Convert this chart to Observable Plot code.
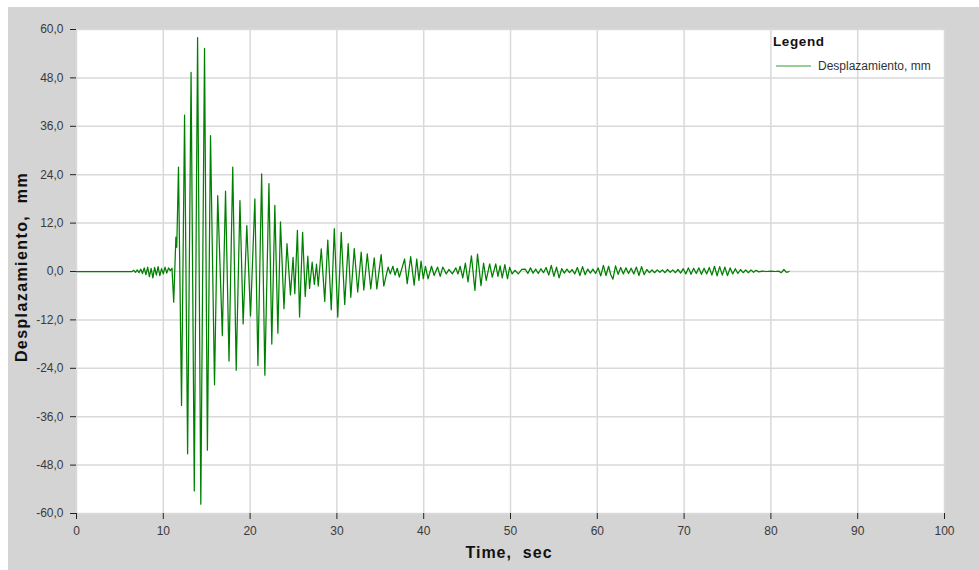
<!DOCTYPE html>
<html>
<head>
<meta charset="utf-8">
<script src="https://cdn.jsdelivr.net/npm/d3@7"></script>
<script src="https://cdn.jsdelivr.net/npm/@observablehq/plot@0.6"></script>
<style>
  body { margin: 0; background: #ffffff; font-family: "Liberation Sans", Arial, sans-serif; }
  #wrap { position: relative; width: 979px; height: 570px; overflow: hidden; }
  #chart { position: absolute; left: 8px; top: 7px; }
  .ytitle { position: absolute; left: 22px; top: 267px; transform: translate(-50%, -50%) rotate(-90deg);
            font-weight: bold; font-size: 16px; letter-spacing: 1.4px; color: #111; white-space: pre; }
  .xtitle { position: absolute; left: 509px; top: 553px; transform: translate(-50%, -50%);
            font-weight: bold; font-size: 16px; letter-spacing: 1px; color: #111; white-space: pre; }
  .legtitle { position: absolute; left: 773px; top: 34px; font-weight: bold; font-size: 13.5px; letter-spacing: 0.6px; color: #111; }
  .legitem { position: absolute; left: 776px; top: 59px; font-size: 12px; color: #333; display: flex; align-items: center; }
  .legitem svg { margin-right: 6px; }
</style>
</head>
<body>
<div id="wrap">
  <div id="chart"></div>
  <div class="ytitle">Desplazamiento,  mm</div>
  <div class="xtitle">Time,  sec</div>
  <div class="legtitle">Legend</div>
  <div class="legitem"><svg width="36" height="4"><line x1="0" x2="35" y1="2" y2="2" stroke="#2e9e2e" stroke-width="1"/></svg><span>Desplazamiento, mm</span></div>
</div>
<script>
// Time of each read extreme (sec)
const time = [
  0, 6.4, 6.6, 6.8, 7.0, 7.2, 7.4, 7.6, 7.8, 8.0, 8.2, 8.4, 8.6, 8.8, 9.0, 9.2, 9.4, 9.6, 9.8, 10.0,
  10.2, 10.4, 10.6, 10.8, 11.0, 11.2, 11.45, 11.55, 11.75, 12.1, 12.45, 12.8, 13.2, 13.57, 13.95, 14.32,
  14.75, 15.08, 15.44, 15.9, 16.27, 16.8, 17.17, 17.57, 18.0, 18.4, 18.83, 19.2, 19.62, 20.05, 20.55,
  20.9, 21.33, 21.7, 22.17, 22.5, 22.85, 23.2, 23.5, 23.9, 24.25, 24.65, 24.95, 25.15, 25.45, 25.7,
  26.05, 26.35, 26.65, 26.85, 27.15, 27.4, 27.65, 27.85, 28.2, 28.6, 28.95, 29.35, 29.7, 30.1, 30.5,
  30.9, 31.3, 31.6, 32.0, 32.4, 32.8, 33.1, 33.5, 33.9, 34.3, 34.6, 35.1, 35.4, 35.9, 36.15, 36.45,
  36.7, 36.95, 37.2, 37.8, 38.1, 38.5, 38.9, 39.2, 39.45, 39.7, 39.95, 40.2, 40.5, 40.9, 41.2, 41.6,
  41.9, 42.2, 42.6, 42.9, 43.3, 43.7, 43.95, 44.2, 44.5, 44.8, 45.1, 45.5, 45.9, 46.2, 46.6, 46.9,
  47.2, 47.6, 47.9, 48.3, 48.55, 48.8, 49.05, 49.35, 49.65, 49.9, 50.2, 50.5, 50.9, 51.3, 51.7,
  52.0, 52.3, 52.6, 52.9, 53.2, 53.5, 53.8, 54.1, 54.4, 54.7, 55.0, 55.3, 55.6, 55.9, 56.2, 56.5,
  56.8, 57.1, 57.4, 57.7, 58.0, 58.3, 58.6, 58.9, 59.2, 59.5, 59.8, 60.1, 60.4, 60.7, 61.0, 61.3,
  61.55, 61.8, 62.1, 62.4, 62.7, 63.0, 63.3, 63.6, 63.9, 64.2, 64.5, 64.8, 65.1, 65.4, 65.7, 66.0,
  66.3, 66.6, 66.9, 67.2, 67.5, 67.8, 68.1, 68.4, 68.7, 69.0, 69.3, 69.6, 69.9, 70.2, 70.5, 70.8,
  71.1, 71.4, 71.7, 72.0, 72.3, 72.6, 72.9, 73.2, 73.5, 73.8, 74.1, 74.4, 74.7, 75.0, 75.3, 75.6,
  75.9, 76.2, 76.5, 76.8, 77.1, 77.4, 77.7, 78.0, 78.3, 78.6, 79.0, 79.5, 80.0, 80.5, 80.9, 81.2,
  81.5, 81.8, 82.1
];
// Displacement at each of those times (mm)
const disp = [
  0, 0, 0.3, -0.2, 0.4, -0.3, 0.6, -0.5, 0.9, -0.8, 1.1, -1.3, 0.8, -1.6, 1.0, -0.9, 1.2, -1.0, 0.7, -0.6,
  1.1, -0.4, 0.9, 0.2, 0.8, -7.6, 8.5, 6.0, 25.9, -33.2, 38.8, -45.2, 49.4, -54.4, 58.0, -57.7,
  55.3, -44.3, 33.7, -28.1, 18.8, -15.9, 19.9, -22.2, 25.9, -24.5, 17.6, -13.0, 11.4, -11.0, 18.0,
  -23.3, 24.2, -25.7, 21.8, -18.0, 16.4, -15.3, 12.3, -9.2, 6.9, -5.8, 3.5, -5.5, 10.2, -11.3,
  9.7, -6.2, 3.8, -4.2, 2.3, -3.2, 1.8, -3.6, 5.6, -7.4, 7.8, -9.5, 10.6, -11.3, 9.7,
  -8.2, 6.9, -6.4, 5.7, -5.1, 4.8, -4.6, 4.4, -4.3, 3.4, -4.3, 4.2, -3.6, 1.1, -0.6, 1.3,
  -0.9, 0.8, -1.4, 3.1, -3.0, 3.7, -3.4, 3.1, -2.2, 2.6, -1.8, 1.3, -1.8, 1.3, -1.0, 1.1,
  -1.2, 1.1, -0.6, 0.5, -0.6, 0.9, -0.6, 1.3, -1.6, 2.1, -2.6, 3.9, -4.7, 4.3, -3.5, 2.1,
  -2.2, 1.9, -1.4, 1.9, -1.2, 1.4, -1.6, 1.7, -1.8, 1.0, -0.6, 0.3, -0.6, 0.5, 0.6,
  -0.5, 0.9, -0.4, 0.6, -0.5, 0.7, -0.3, 1.0, -0.9, 1.5, -1.2, 1.1, -1.6, 0.7, -0.4, 0.6,
  -0.3, 0.5, -0.6, 1.0, -1.0, 1.2, -0.8, 0.6, -0.4, 0.6, -0.5, 0.9, -1.1, 1.5, -1.0, 1.3,
  -0.8, -1.9, 1.4, -0.7, 1.0, -0.6, 0.9, -0.5, 0.8, -0.6, 1.1, -1.0, 1.2, -0.8, 0.5, -0.3,
  0.4, -0.3, 0.4, -0.2, 0.4, -0.3, 0.5, -0.2, 0.4, -0.3, 0.5, -0.4, 0.7, -0.6, 0.9, -0.7,
  0.8, -0.5, 0.9, -0.7, 0.8, -0.6, 1.0, -0.9, 1.3, -1.1, 1.2, -0.9, 1.1, -1.0, 0.9, -0.6,
  0.7, -0.5, 0.5, -0.3, 0.4, -0.3, 0.4, -0.2, 0.3, -0.1, 0.1, 0.0, 0.1, 0.0, 0.1, -0.3,
  0.5, -0.2, 0.0
];
const xTicks = [0, 10, 20, 30, 40, 50, 60, 70, 80, 90, 100];
const yTicks = [-60, -48, -36, -24, -12, 0, 12, 24, 36, 48, 60];

const data = time.map((t, i) => ({t, v: disp[i]}));

const chart = Plot.plot({
  width: 971,
  height: 563,
  marginLeft: 68,
  marginRight: 35,
  marginTop: 22,
  marginBottom: 57,
  style: {background: "#d4d4d4", fontFamily: "Liberation Sans, Arial, sans-serif", fontSize: "12px", color: "#444"},
  x: {domain: [0, 100]},
  y: {domain: [-60, 60]},
  marks: [
    Plot.frame({fill: "white", stroke: null}),
    Plot.gridX(xTicks, {stroke: "#d9d9d9", strokeOpacity: 1, strokeWidth: 1.5}),
    Plot.gridY(yTicks, {stroke: "#d9d9d9", strokeOpacity: 1, strokeWidth: 1.5}),
    Plot.axisX(xTicks, {tickSize: 6, tickPadding: 7, label: null, stroke: "#222", fill: "#3a3a3a"}),
    Plot.axisY(yTicks, {tickSize: 6, tickPadding: 7, label: null, stroke: "#222", fill: "#3a3a3a",
      tickFormat: d => d.toFixed(1).replace(".", ",")}),
    Plot.line(data, {x: "t", y: "v", stroke: "#008000", strokeWidth: 1.25})
  ]
});
document.getElementById("chart").appendChild(chart);
</script>
</body>
</html>
